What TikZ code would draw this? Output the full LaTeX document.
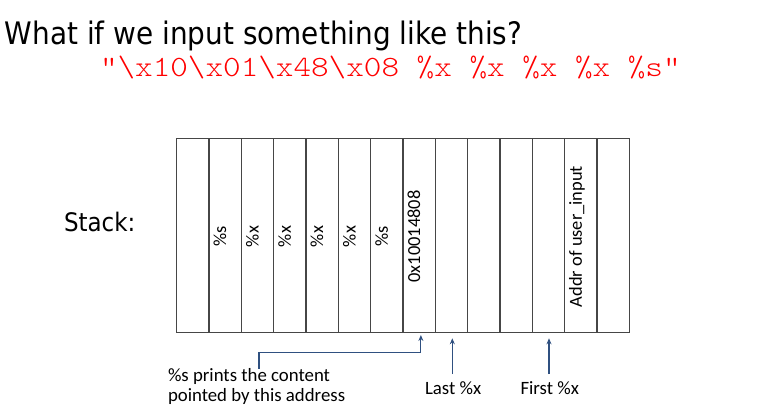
\documentclass[tikz,border=0pt]{standalone}
\usepackage{fontspec}
\setmainfont{Carlito}
\newfontfamily\headfont[FakeStretch=0.9]{DejaVu Sans}
\newfontfamily\codefont[FakeStretch=1.14]{Latin Modern Mono Light}
\usetikzlibrary{arrows.meta}

\definecolor{codered}{RGB}{255,0,0}
\definecolor{pointerblue}{RGB}{47,80,128}
\definecolor{cellline}{RGB}{70,70,70}

\begin{document}
\begin{tikzpicture}[x=1pt,y=1pt,
  every node/.style={inner sep=0pt, outer sep=0pt},
  heading/.style={anchor=base west, font=\headfont\fontsize{31}{36}\selectfont},
  stacklabel/.style={anchor=base west, font=\headfont\fontsize{25.5}{30}\selectfont},
  code/.style={anchor=base west, text=codered, font=\codefont\fontsize{29.4}{34}\selectfont},
  cell/.style={draw=cellline, line width=1.3pt, minimum width=32.33pt, minimum height=194pt},
  celltext/.style={xshift=1pt, yshift=-1.2pt, rotate=90, anchor=base, font=\fontsize{18.4}{22}\selectfont},
  note/.style={anchor=base west, font=\fontsize{18.8}{20}\selectfont, align=left},
  pointer/.style={draw=pointerblue, line width=1.1pt, -{Stealth[length=6pt,width=5pt]}}
]
\useasboundingbox (0,0) rectangle (763,406);

% heading and the format string
\node[heading] (title) at (5,361) {What if we input something like this?};
\node[code] (input) at (100,329.3)
  {"\textbackslash x10\textbackslash x01\textbackslash x48\textbackslash x08 \%x \%x \%x \%x \%s"};

% the stack: fourteen slots
\node[stacklabel] (stack) at (64,174.3) {Stack:};
\foreach \i in {1,...,14}
  \node[cell] (c\i) at ({176.7+32.33*(\i-0.5)},170.7) {};

\node[celltext] (t2)  at (c2.center)  {\%s};
\node[celltext] (t3)  at (c3.center)  {\%x};
\node[celltext] (t4)  at (c4.center)  {\%x};
\node[celltext] (t5)  at (c5.center)  {\%x};
\node[celltext] (t6)  at (c6.center)  {\%x};
\node[celltext] (t7)  at (c7.center)  {\%s};
\node[celltext] (t8)  at (c8.center)  {0x10014808};
\node[celltext] (t13) at (c13.center) {Addr of user\_input};

% annotations below the stack (base anchor sits on the last line)
\node[note] (addrnote) at (168,4.3) {\%s prints the content\\pointed by this address};
\node[note] (lastx) at (425,11) {Last \%x};
\node[note] (firstx) at (520.5,11) {First \%x};

\coordinate (bend) at (259,53.3);
\draw[pointer] (bend |- addrnote.north) -- (bend) -| ([xshift=1.7pt,yshift=-2.7pt]c8.south);
\draw[pointer] ([xshift=0.8pt,yshift=8pt]c9.south |- lastx.north) -- ([xshift=0.8pt,yshift=-6pt]c9.south);
\draw[pointer] ([xshift=0.5pt,yshift=8pt]c12.south |- firstx.north) -- ([xshift=0.5pt,yshift=-6pt]c12.south);
\end{tikzpicture}
\end{document}
